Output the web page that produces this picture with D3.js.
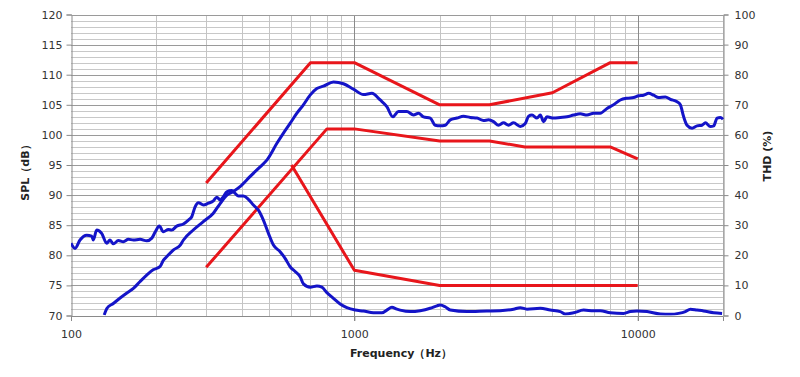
<!DOCTYPE html>
<html><head><meta charset="utf-8">
<script src="https://cdn.jsdelivr.net/npm/d3@7"></script>
<style>
html,body{margin:0;padding:0;background:#fff;}
svg{display:block;}
text{font-family:"DejaVu Sans",Verdana,sans-serif;}
</style></head>
<body>
<svg id="chart" width="800" height="377"></svg>
<script>
// ---- data ----
const splFreq = [131,134,141,149,157,166,175,185,195,206,212,218,230,243,249,270,293,318,336,355,374,395,429,465,491,533,562,593,627,661,698,737,778,844,915,993,1077,1153,1234,1302,1367,1431,1532,1617,1684,1754,1853,1929,2009,2093,2180,2302,2428,2564,2708,2857,2975,3099,3227,3361,3501,3646,3850,4010,4120,4237,4412,4531,4654,4783,5047,5331,5628,5940,6271,6622,6989,7377,7790,8219,8682,9168,9672,10070,10490,10930,11380,11850,12520,13040,13770,14140,14530,14930,15550,16200,16870,17330,18050,18540,19060,19570,20000];
const splDb   = [70.1,71.2,72.0,72.9,73.7,74.5,75.6,76.7,77.6,78.1,79.2,79.8,80.9,81.7,82.5,84.2,85.6,87.0,88.6,90.0,90.6,91.4,93.1,94.7,95.8,98.6,100.3,101.9,103.6,105.0,106.6,107.7,108.1,108.8,108.5,107.6,106.7,106.9,105.8,104.7,103.0,103.9,103.9,103.3,103.6,103.0,102.8,101.6,101.5,101.6,102.5,102.8,103.1,102.9,102.8,102.4,102.5,102.2,101.6,102.0,101.6,102.0,101.4,101.9,103.1,103.3,102.8,103.3,102.2,103.0,102.8,102.9,103.0,103.3,103.5,103.3,103.6,103.6,104.4,105.0,105.8,106.1,106.2,106.5,106.6,106.9,106.6,106.2,106.3,105.9,105.5,105.0,103.0,101.6,101.1,101.5,101.6,102.0,101.4,101.5,102.8,102.9,102.6];

const thdFreq = [100,103.3,107.6,113.6,118.3,119.9,123.2,128.3,133.7,137.3,141.1,146.9,153,159.4,166,175.3,185.1,192.8,198.4,205,211.7,220.6,226.8,236.2,249.2,259.6,266.8,274.1,281.6,293.3,305.4,318.1,327,335.8,345,354.7,369.5,379.5,389.8,406,422.7,440.2,458.5,477.5,497.5,518.1,547,569.6,593.4,618,643.7,661.2,698.3,737.3,767.9,799.8,843.7,891.1,940.8,1007,1077,1168,1251,1302,1357,1413,1451,1574,1708,1852,1956,2009,2093,2180,2496,2937,3271,3646,3850,4066,4531,4914,5331,5553,5940,6442,6989,7377,8004,8916,9417,9943,10790,12020,13040,13950,14730,15340,16200,17090,18540,19850];
const thdPct  = [24.0,22.3,25.1,26.7,26.4,25.1,28.4,27.3,24.0,25.1,23.8,24.9,24.5,25.3,25.1,25.3,24.8,25.7,27.8,29.7,27.8,28.6,28.4,29.7,30.4,31.7,32.8,36.1,37.5,36.7,37.3,38.1,39.3,38.4,39.5,41.1,41.5,40.6,39.7,39.7,38.6,36.7,35.0,31.7,27.3,23.4,21.2,19.0,16.2,14.6,12.9,10.5,9.4,9.8,9.4,7.6,5.7,3.8,2.6,1.8,1.5,0.9,0.9,1.8,2.7,2.1,1.8,1.3,1.6,2.4,3.2,3.5,2.9,1.8,1.3,1.5,1.6,2.1,2.6,2.1,2.4,1.8,1.3,0.5,0.9,1.8,1.6,1.6,0.9,0.7,1.3,1.5,1.3,0.5,0.4,0.7,1.3,2.1,1.8,1.5,0.9,0.7];

const limitUpperFreq = [300,700,1000,2000,3000,5000,8000,10000];
const limitUpperDb   = [92,112,112,105,105,107,112,112];
const limitLowerFreq = [300,800,1000,2000,3000,4000,8000,10000];
const limitLowerDb   = [78,101,101,99,99,98,98,96];
const limitThdFreq   = [600,1000,2000,10000];
const limitThdPct    = [50,15,10,10];

const splTicks  = [70,75,80,85,90,95,100,105,110,115,120];
const thdTicks  = [0,10,20,30,40,50,60,70,80,90,100];
const freqTicks = [100,1000,10000];
const xTitle = "Frequency（Hz）";
const yTitle = "SPL（dB）";
const y2Title = "THD (%)";

// ---- chart ----
const svg = d3.select("#chart");
const L = 71, R = 723, T = 14.5, B = 315.5;
const x = d3.scaleLog().domain([100, 20000]).range([L, R]);
const y = d3.scaleLinear().domain([70, 120]).range([B, T]);
const y2 = d3.scaleLinear().domain([0, 100]).range([B, T]);

const grid = svg.append("g").attr("shape-rendering", "crispEdges");
// minor horizontal gridlines every 1 dB
grid.selectAll("line.hmin").data(d3.range(70, 121, 1).filter(v => v % 5 !== 0)).join("line")
  .attr("x1", L).attr("x2", R).attr("y1", d => Math.round(y(d)) + 0.5).attr("y2", d => Math.round(y(d)) + 0.5)
  .attr("stroke", "#c8c8c8").attr("stroke-width", 1);
// minor vertical gridlines
const minorF = [];
[100, 1000, 10000].forEach(dec => { for (let k = 2; k <= 9; k++) { const f = dec * k; if (f <= 20000) minorF.push(f); } });
grid.selectAll("line.vmin").data(minorF).join("line")
  .attr("y1", T).attr("y2", B).attr("x1", d => Math.round(x(d)) + 0.5).attr("x2", d => Math.round(x(d)) + 0.5)
  .attr("stroke", "#c4c4c4").attr("stroke-width", 1);
// major horizontal gridlines
grid.selectAll("line.hmaj").data(splTicks).join("line")
  .attr("x1", L).attr("x2", R).attr("y1", d => Math.round(y(d)) + 0.5).attr("y2", d => Math.round(y(d)) + 0.5)
  .attr("stroke", "#9a9a9a").attr("stroke-width", 1);
// decade lines
grid.selectAll("line.vmaj").data([1000, 10000]).join("line")
  .attr("y1", T).attr("y2", B + 5).attr("x1", d => Math.round(x(d)) + 0.5).attr("x2", d => Math.round(x(d)) + 0.5)
  .attr("stroke", "#8a8a8a").attr("stroke-width", 1);

// axes
const tickFont = g => g.selectAll("text").attr("font-size", 11).attr("fill", "#333");
const axL = svg.append("g").attr("transform", `translate(${L + 0.5},0)`)
  .call(d3.axisLeft(y).tickValues(splTicks).tickSize(5).tickPadding(4).tickFormat(d3.format("d")));
const axR = svg.append("g").attr("transform", `translate(${R + 0.5},0)`)
  .call(d3.axisRight(y2).tickValues(thdTicks).tickSize(5).tickPadding(6).tickFormat(d3.format("d")));
const axB = svg.append("g").attr("transform", `translate(0,${B + 0.5})`)
  .call(d3.axisBottom(x).tickValues(freqTicks).tickSize(5).tickPadding(9).tickFormat(d3.format("d")));
[axL, axR, axB].forEach(a => {
  a.select(".domain").attr("stroke", "#8a8a8a");
  a.selectAll(".tick line").attr("stroke", "#8a8a8a");
  a.call(tickFont);
});
// top border
svg.append("line").attr("x1", L).attr("x2", R).attr("y1", Math.round(T) + 0.5).attr("y2", Math.round(T) + 0.5)
  .attr("stroke", "#9a9a9a");

// series
const line = d3.line();
function pts(fx, vy, ys) { return fx.map((f, i) => [x(f), ys(vy[i])]); }
const clip = svg.append("clipPath").attr("id", "pc").append("rect")
  .attr("x", L).attr("y", T - 2).attr("width", R - L + 2).attr("height", B - T + 2);
const series = svg.append("g").attr("clip-path", "url(#pc)");
const blue = "#1414c8", red = "#e8161b";
series.append("path").attr("d", line(pts(limitUpperFreq, limitUpperDb, y))).attr("fill", "none").attr("stroke", red).attr("stroke-width", 3).attr("stroke-linejoin", "round");
series.append("path").attr("d", line(pts(limitLowerFreq, limitLowerDb, y))).attr("fill", "none").attr("stroke", red).attr("stroke-width", 3).attr("stroke-linejoin", "round");
series.append("path").attr("d", line(pts(limitThdFreq, limitThdPct, y2))).attr("fill", "none").attr("stroke", red).attr("stroke-width", 3).attr("stroke-linejoin", "round");
const smooth = d3.line().curve(d3.curveMonotoneX);
series.append("path").attr("d", smooth(pts(thdFreq, thdPct, y2))).attr("fill", "none").attr("stroke", blue).attr("stroke-width", 3).attr("stroke-linejoin", "round");
series.append("path").attr("d", smooth(pts(splFreq, splDb, y))).attr("fill", "none").attr("stroke", blue).attr("stroke-width", 3).attr("stroke-linejoin", "round");

// titles
svg.append("text").attr("x", (L + R) / 2 + 4).attr("y", 357).attr("text-anchor", "middle")
  .attr("font-size", 11).attr("font-weight", "bold").attr("fill", "#222").text(xTitle);
svg.append("text").attr("transform", `translate(29,170) rotate(-90)`).attr("text-anchor", "middle")
  .attr("font-size", 11).attr("font-weight", "bold").attr("fill", "#222").text(yTitle);
svg.append("text").attr("transform", `translate(771,156) rotate(-90)`).attr("text-anchor", "middle")
  .attr("font-size", 11).attr("font-weight", "bold").attr("fill", "#222").text(y2Title);
</script>
</body></html>
